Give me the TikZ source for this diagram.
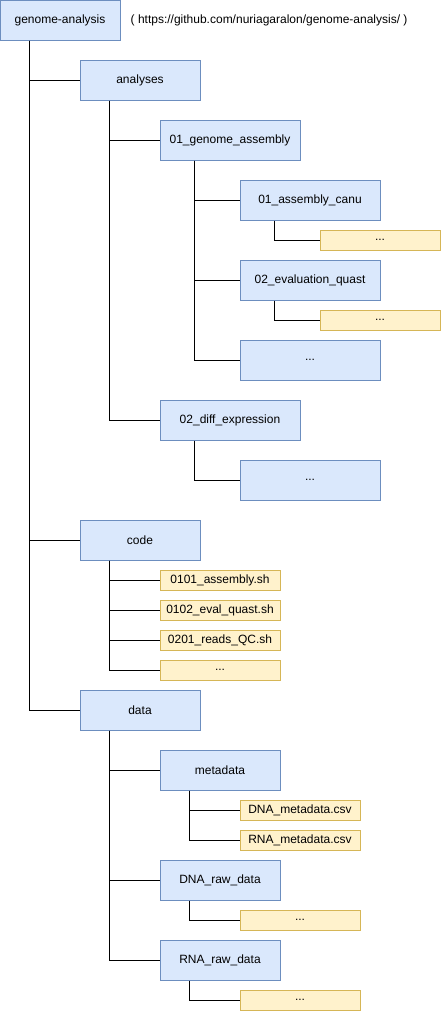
\documentclass[tikz,border=0pt]{standalone}
\usepackage{fontspec}
\setmainfont{Liberation Sans}
\definecolor{dirfill}{HTML}{DAE8FC}
\definecolor{dirline}{HTML}{6C8EBF}
\definecolor{filefill}{HTML}{FFF2CC}
\definecolor{fileline}{HTML}{D6B656}
\begin{document}
\begin{tikzpicture}[x=0.75pt, y=-0.75pt, font=\fontsize{9}{11}\selectfont,
		dir/.style = {draw=dirline, fill=dirfill, line width=0.75pt, minimum width=90pt, minimum height=30pt, inner sep=0pt},
		widedir/.style = {dir, minimum width=105pt},
		file/.style = {draw=fileline, fill=filefill, line width=0.75pt, minimum width=90pt, minimum height=15pt, inner sep=0pt},
		link/.style = {draw=black, line width=0.75pt}]
		
		\useasboundingbox (0,0) rectangle (441,1011);
		
		\node[dir] (ga) at (60,20) {genome-analysis};
		\node[anchor=west] (url) at (126,20) {( https://github.com/nuriagaralon/genome-analysis/ )};
		
		\node[dir] (an) at (140,80) {analyses};
		\node[widedir] (asm) at (230,140) {01\_genome\_assembly};
		\node[widedir] (canu) at (310,200) {01\_assembly\_canu};
		\node[file] (canuD) at (380,240) {...};
		\node[widedir] (quast) at (310,280) {02\_evaluation\_quast};
		\node[file] (quastD) at (380,320) {...};
		\node[widedir] (asmD) at (310,360) {...};
		\node[widedir] (diff) at (230,420) {02\_diff\_expression};
		\node[widedir] (diffD) at (310,480) {...};
		
		\node[dir] (code) at (140,540) {code};
		\node[file] (s1) at (220,580) {0101\_assembly.sh};
		\node[file] (s2) at (220,610) {0102\_eval\_quast.sh};
		\node[file] (s3) at (220,640) {0201\_reads\_QC.sh};
		\node[file] (s4) at (220,670) {...};
		
		\node[dir] (data) at (140,710) {data};
		\node[dir] (meta) at (220,770) {metadata};
		\node[file] (dnaM) at (300,810) {DNA\_metadata.csv};
		\node[file] (rnaM) at (300,840) {RNA\_metadata.csv};
		\node[dir] (dnaR) at (220,880) {DNA\_raw\_data};
		\node[file] (dnaRD) at (300,920) {...};
		\node[dir] (rnaR) at (220,960) {RNA\_raw\_data};
		\node[file] (rnaRD) at (300,1000) {...};
		
		% tree lines
		\foreach \c in {an,code,data}
			\draw[link] (ga.south west) ++(30,0) |- (\c.west);
		\foreach \c in {asm,diff}
			\draw[link] (an.south west) ++(30,0) |- (\c.west);
		\foreach \c in {canu,quast,asmD}
			\draw[link] (asm.south west) ++(35,0) |- (\c.west);
		\draw[link] (canu.south west) ++(35,0) |- (canuD.west);
		\draw[link] (quast.south west) ++(35,0) |- (quastD.west);
		\draw[link] (diff.south west) ++(35,0) |- (diffD.west);
		\foreach \c in {s1,s2,s3,s4}
			\draw[link] (code.south west) ++(30,0) |- (\c.west);
		\foreach \c in {meta,dnaR,rnaR}
			\draw[link] (data.south west) ++(30,0) |- (\c.west);
		\foreach \c in {dnaM,rnaM}
			\draw[link] (meta.south west) ++(30,0) |- (\c.west);
		\draw[link] (dnaR.south west) ++(30,0) |- (dnaRD.west);
		\draw[link] (rnaR.south west) ++(30,0) |- (rnaRD.west);
		
	\end{tikzpicture}
\end{document}
